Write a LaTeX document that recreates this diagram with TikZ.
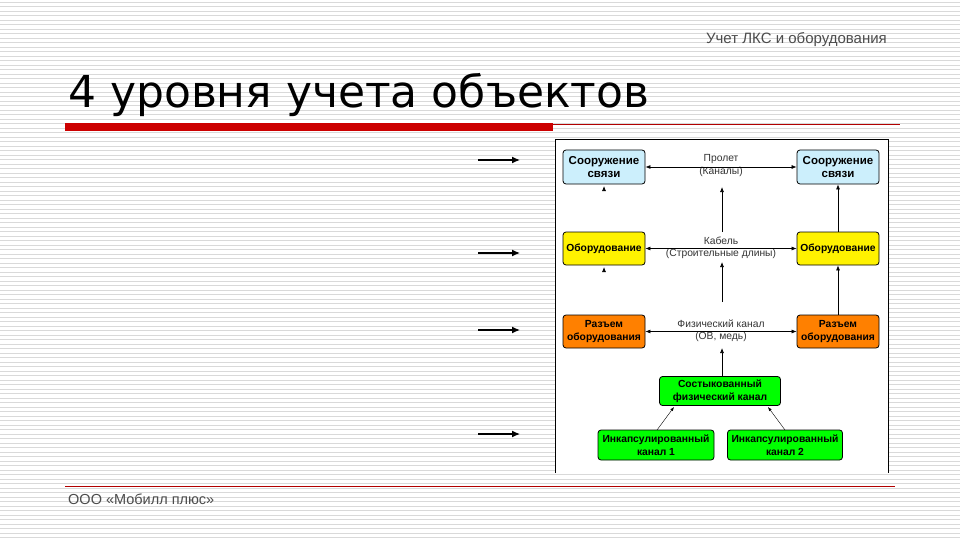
\documentclass[tikz,border=0pt]{standalone}
\usepackage{fontspec}
\setmainfont{Liberation Sans}
\newfontfamily\titlefont{DejaVu Sans}
\usetikzlibrary{arrows.meta}
\begin{document}
\begin{tikzpicture}[x=1pt,y=-1pt,
  bx/.style={draw=black,line width=0.8pt,rounded corners=3pt,font=\fontsize{11.5}{13}\selectfont\bfseries,align=center,inner sep=1pt},
  bs/.style={bx,font=\fontsize{10.3}{12.5}\selectfont\bfseries},
  dar/.style={{Latex[length=5pt,width=4pt]}-{Latex[length=5pt,width=4pt]},line width=0.7pt},
  uar/.style={-{Latex[length=5pt,width=4pt]},line width=0.7pt},
  lbl/.style={font=\fontsize{10.3}{12}\selectfont,text=black!80,align=center,inner sep=0pt},
  bigar/.style={-{Latex[length=8pt,width=7pt]},line width=1.2pt}]
\useasboundingbox (0,0) rectangle (960,540);
\fill[white] (0,0) rectangle (960,540);
\foreach \i in {0,...,120} \draw[black!15,line width=0.9pt] (0,2+4.5*\i) -- (960,2+4.5*\i);
% header
\node[anchor=east,font=\fontsize{15}{16}\selectfont,text=black!70,inner sep=0pt] (hdr) at (887,40) {Учет ЛКС и оборудования};
\node[anchor=base west,font=\titlefont\fontsize{44}{48}\selectfont,inner sep=0pt] (title) at (68,108) {4 уровня учета объектов};
\fill[red!80!black] (65,123) rectangle (553,131);
\draw[red!70!black,line width=0.6pt] (553,124) -- (900,124);
\draw[red!70!black,line width=0.6pt] (65,486) -- (895,486);
\node[anchor=west,font=\fontsize{14.5}{16}\selectfont,text=black!70,inner sep=0pt] (ftr) at (68,499) {ООО «Мобилл плюс»};
% image
\fill[white] (555,139) rectangle (888,473);
\draw[black,line width=0.6pt] (555,473) -- (555,139) -- (888,139) -- (888,473);
% nodes
\node[bx,fill=cyan!20,minimum width=82pt,minimum height=34pt] (s1) at (604,167) {Сооружение\\связи};
\node[bx,fill=cyan!20,minimum width=82pt,minimum height=34pt] (s2) at (838,167) {Сооружение\\связи};
\node[bs,fill=yellow,minimum width=82pt,minimum height=33pt] (o1) at (604,248.5) {Оборудование};
\node[bs,fill=yellow,minimum width=82pt,minimum height=33pt] (o2) at (838,248.5) {Оборудование};
\node[bs,fill=orange,minimum width=82pt,minimum height=33pt] (r1) at (604,331.5) {Разъем\\оборудования};
\node[bs,fill=orange,minimum width=82pt,minimum height=33pt] (r2) at (838,331.5) {Разъем\\оборудования};
\node[bs,fill=green,minimum width=121pt,minimum height=29pt] (c) at (720,391) {Состыкованный\\физический канал};
\node[bs,fill=green,minimum width=116pt,minimum height=30pt] (i1) at (656,445) {Инкапсулированный\\канал 1};
\node[bs,fill=green,minimum width=115pt,minimum height=30pt] (i2) at (785,445) {Инкапсулированный\\канал 2};
% labels
\node[lbl] (l1a) at (721,159) {Пролет};
\node[lbl] (l1b) at (721,172) {(Каналы)};
\node[lbl] (l2a) at (721,241) {Кабель};
\node[lbl] (l2b) at (721,254) {(Строительные длины)};
\node[lbl] (l3a) at (721,324) {Физический канал};
\node[lbl] (l3b) at (721,337) {(ОВ, медь)};
% connectors
\draw[dar] (s1.east) -- (s2.west);
\draw[dar] (o1.east) -- (o2.west);
\draw[dar] (r1.east) -- (r2.west);
\draw[uar] (722,232) coordinate (v1) -- (722,187) coordinate (v1e);
\draw[uar] (722,302) coordinate (v2) -- (722,262) coordinate (v2e);
\draw[uar] (c.north -| 722,0) coordinate (v3) -- (722,348) coordinate (v3e);
\draw[uar] (o2.north) -- (s2.south);
\draw[uar] (r2.north) -- (o2.south);
\draw[uar] (604,190) coordinate (t1) -- (604,186) coordinate (t1e);
\draw[uar] (604,271) coordinate (t2) -- (604,267) coordinate (t2e);
\draw[-{Latex[length=4pt,width=3pt]},line width=0.4pt] (657,430) coordinate (d1) -- (674,407) coordinate (d1e);
\draw[-{Latex[length=4pt,width=3pt]},line width=0.4pt] (785,430) coordinate (d2) -- (768,407) coordinate (d2e);
% left arrows
\foreach \y/\n in {160/a,253/b,330/c,434/d} {
  \coordinate (la\n) at (478,\y); \coordinate (lb\n) at (520,\y);
  \draw[bigar] (la\n) -- (lb\n);}
\end{tikzpicture}
\end{document}
